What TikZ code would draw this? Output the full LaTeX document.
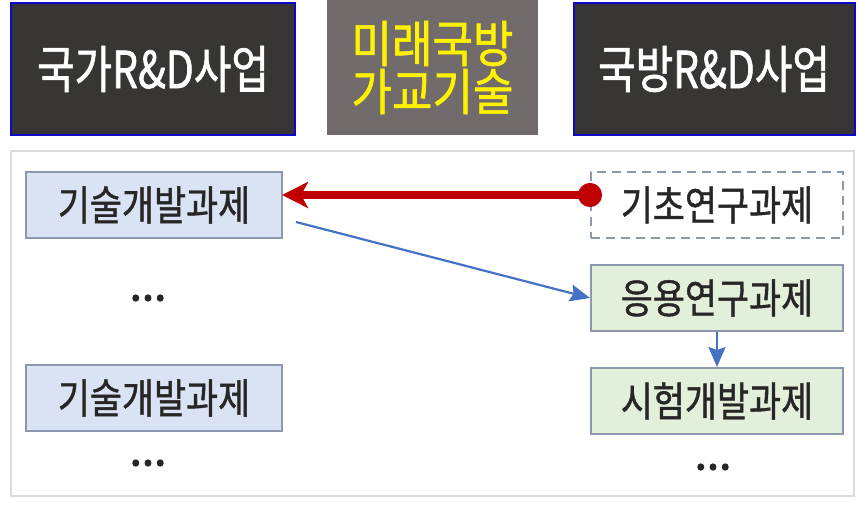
\documentclass[tikz,border=0pt]{standalone}
\usepackage{fontspec}
\usetikzlibrary{arrows.meta}
\newfontfamily\krtop[FakeStretch=0.8,FakeBold=1.2]{Noto Sans CJK KR}
\newfontfamily\krmid[FakeStretch=0.88,FakeBold=1.2]{Noto Sans CJK KR}
\newfontfamily\krbox[FakeStretch=0.85,FakeBold=1]{Noto Sans CJK KR}
\newfontfamily\krdots[FakeBold=2.5]{Noto Sans CJK KR}
\definecolor{topfill}{HTML}{383634}
\definecolor{topedge}{HTML}{0A0AC8}
\definecolor{midfill}{HTML}{716B6B}
\definecolor{boxedge}{HTML}{8C98AE}
\definecolor{bluefill}{HTML}{DAE3F3}
\definecolor{greenfill}{HTML}{E2EFDA}
\definecolor{txt}{HTML}{262626}
\definecolor{redc}{HTML}{C00000}
\definecolor{bluec}{HTML}{4472C4}
\definecolor{frame}{HTML}{DCDCDC}
\tikzset{
  topbox/.style={draw=topedge, fill=topfill, line width=2pt, text=white,
    minimum width=284pt, minimum height=131pt, inner sep=0pt,
    font=\krtop\fontsize{51}{54}\selectfont},
  midbox/.style={fill=midfill, text=yellow, minimum width=211pt,
    minimum height=135pt, inner sep=0pt, align=center,
    font=\krmid\fontsize{50}{48}\selectfont},
  taskbox/.style={draw=boxedge, line width=2pt, text=txt, inner sep=0pt,
    minimum height=66pt, font=\krbox\fontsize{41}{42}\selectfont},
  techbox/.style={taskbox, fill=bluefill, minimum width=256pt},
  appbox/.style={taskbox, fill=greenfill, minimum width=252pt},
  basebox/.style={taskbox, dashed, dash pattern=on 9pt off 6pt, minimum width=252pt},
  dotsnode/.style={inner sep=0pt, text=txt, font=\krdots\fontsize{44}{44}\selectfont},
  bluearrow/.style={draw=bluec, line width=2.2pt, -{Stealth[length=20pt,width=17pt,inset=3pt]}},
  redarrow/.style={draw=redc, line width=7.5pt,
    {Circle[length=24pt,width=24pt]}-{Stealth[length=26pt,width=26pt,inset=7pt]}}
}
\begin{document}
\begin{tikzpicture}[x=1pt,y=-1pt]
\useasboundingbox (0,0) rectangle (865,511);
\fill[white] (0,0) rectangle (865,511);
% top headers
\node[topbox] (nat) at (153,69) {국가R\&D사업};
\node[midbox] (mid) at (432.5,67.5) {미래국방\\가교기술};
\node[topbox, minimum width=281pt] (def) at (714,69) {국방R\&D사업};
% container
\draw[frame, line width=2pt] (11,151) rectangle (854,496);
% left column
\node[techbox] (tech1) at (154,205) {기술개발과제};
\node[dotsnode] (dl1) at (148,298) {...};
\node[techbox] (tech2) at (154,398) {기술개발과제};
\node[dotsnode] (dl2) at (148,463) {...};
% right column
\node[basebox] (kicho) at (717,205) {기초연구과제};
\node[appbox] (ohyong) at (717,298) {응용연구과제};
\node[appbox] (siheom) at (717,401) {시험개발과제};
\node[dotsnode] (dr) at (713,467) {...};
% connectors
\draw[redarrow] ([xshift=12pt,yshift=10pt]kicho.west) -- ([xshift=-1pt,yshift=10pt]tech1.east);
\draw[bluearrow] ([xshift=13pt,yshift=-17pt]tech1.east) -- (ohyong.west);
\draw[bluearrow] (ohyong.south) -- (siheom.north);
\end{tikzpicture}
\end{document}
